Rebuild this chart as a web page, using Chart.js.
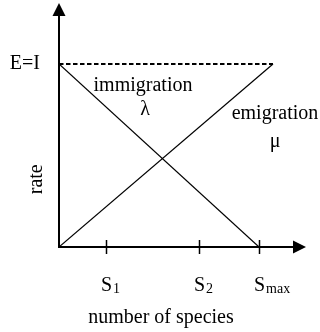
<!DOCTYPE html>
<html>
<head>
<meta charset="utf-8">
<script src="https://cdn.jsdelivr.net/npm/chart.js@4"></script>
<style>
  html, body { margin: 0; padding: 0; background: #fff; }
  #wrap { width: 320px; height: 332px; }
</style>
</head>
<body>
<div id="wrap"><canvas id="chart"></canvas></div>
<script>
// species count is in units of Smax, rate in units of the E=I level
const speciesTicks = [0.235, 0.70, 1.0];
const tickNames = [['S', '1'], ['S', '2'], ['S', 'max']];
const immigration = [{ x: 0, y: 1 }, { x: 1, y: 0 }];
const emigration = [{ x: 0, y: 0 }, { x: 1.07, y: 1 }];
const equilibrium = [{ x: 0, y: 1 }, { x: 1.07, y: 1 }];
const axisEnd = { x: 1.235, y: 1.333 };

// curve labels: [text, x, y] in data units
const curveLabels = [
    ['immigration', 0.42, 0.88],
    ['\u03bb', 0.43, 0.75],
    ['emigration', 1.08, 0.727],
    ['\u03bc', 1.08, 0.574]
];

const serif = "'Liberation Serif', 'Times New Roman', serif";

// axes, arrows, ticks and text drawn on top, positioned via the scales
const annotate = {
    id: 'annotate',
    afterDraw(chart) {
        const ctx = chart.ctx;
        const xs = chart.scales.x, ys = chart.scales.y;
        const x0 = xs.getPixelForValue(0), y0 = ys.getPixelForValue(0);
        const xEnd = xs.getPixelForValue(axisEnd.x), yEnd = ys.getPixelForValue(axisEnd.y);
        ctx.save();
        ctx.strokeStyle = '#000';
        ctx.fillStyle = '#000';

        // axis lines
        ctx.lineWidth = 2;
        ctx.beginPath();
        ctx.moveTo(x0, yEnd + 10);
        ctx.lineTo(x0, y0);
        ctx.lineTo(xEnd - 10, y0);
        ctx.stroke();

        // arrow heads
        ctx.beginPath();
        ctx.moveTo(x0, yEnd);
        ctx.lineTo(x0 - 6.5, yEnd + 13);
        ctx.lineTo(x0 + 6.5, yEnd + 13);
        ctx.closePath();
        ctx.fill();
        ctx.beginPath();
        ctx.moveTo(xEnd, y0);
        ctx.lineTo(xEnd - 13, y0 - 6.5);
        ctx.lineTo(xEnd - 13, y0 + 6.5);
        ctx.closePath();
        ctx.fill();

        // tick marks crossing the x axis + S labels
        ctx.lineWidth = 1.5;
        ctx.textBaseline = 'alphabetic';
        speciesTicks.forEach((v, i) => {
            const px = Math.round(xs.getPixelForValue(v)) + 0.5;
            ctx.beginPath();
            ctx.moveTo(px, y0 - 7);
            ctx.lineTo(px, y0 + 7);
            ctx.stroke();
            ctx.font = '20px ' + serif;
            const sw = ctx.measureText(tickNames[i][0]).width;
            ctx.textAlign = 'left';
            ctx.fillText(tickNames[i][0], px - sw / 2, y0 + 44);
            ctx.font = '14px ' + serif;
            ctx.fillText(tickNames[i][1], px + sw / 2 + 1, y0 + 46);
        });

        ctx.font = '20px ' + serif;
        ctx.textBaseline = 'middle';

        // E=I level
        ctx.textAlign = 'right';
        ctx.fillText('E=I', x0 - 19, ys.getPixelForValue(1));

        // curve labels
        ctx.textAlign = 'center';
        curveLabels.forEach(([t, vx, vy]) => {
            ctx.fillText(t, xs.getPixelForValue(vx), ys.getPixelForValue(vy));
        });

        // axis titles
        ctx.fillText('number of species', x0 + 102, y0 + 71);
        ctx.save();
        ctx.translate(x0 - 22, ys.getPixelForValue(0.37));
        ctx.rotate(-Math.PI / 2);
        ctx.fillText('rate', 0, 0);
        ctx.restore();

        ctx.restore();
    }
};

const lineStyle = {
    borderColor: '#000',
    borderWidth: 1.2,
    pointRadius: 0,
    fill: false,
    tension: 0
};

new Chart(document.getElementById('chart'), {
    type: 'line',
    data: {
        datasets: [
            { label: 'immigration', data: immigration, ...lineStyle },
            { label: 'emigration', data: emigration, ...lineStyle },
            { label: 'E=I', data: equilibrium, ...lineStyle, borderWidth: 2, borderDash: [4.5, 2.5] }
        ]
    },
    options: {
        responsive: true,
        maintainAspectRatio: false,
        animation: false,
        events: [],
        layout: { padding: { left: 59, top: 3, right: 14, bottom: 85 } },
        plugins: {
            legend: { display: false },
            tooltip: { enabled: false }
        },
        scales: {
            x: { type: 'linear', min: 0, max: axisEnd.x, display: false },
            y: { type: 'linear', min: 0, max: axisEnd.y, display: false }
        }
    },
    plugins: [annotate]
});
</script>
</body>
</html>
